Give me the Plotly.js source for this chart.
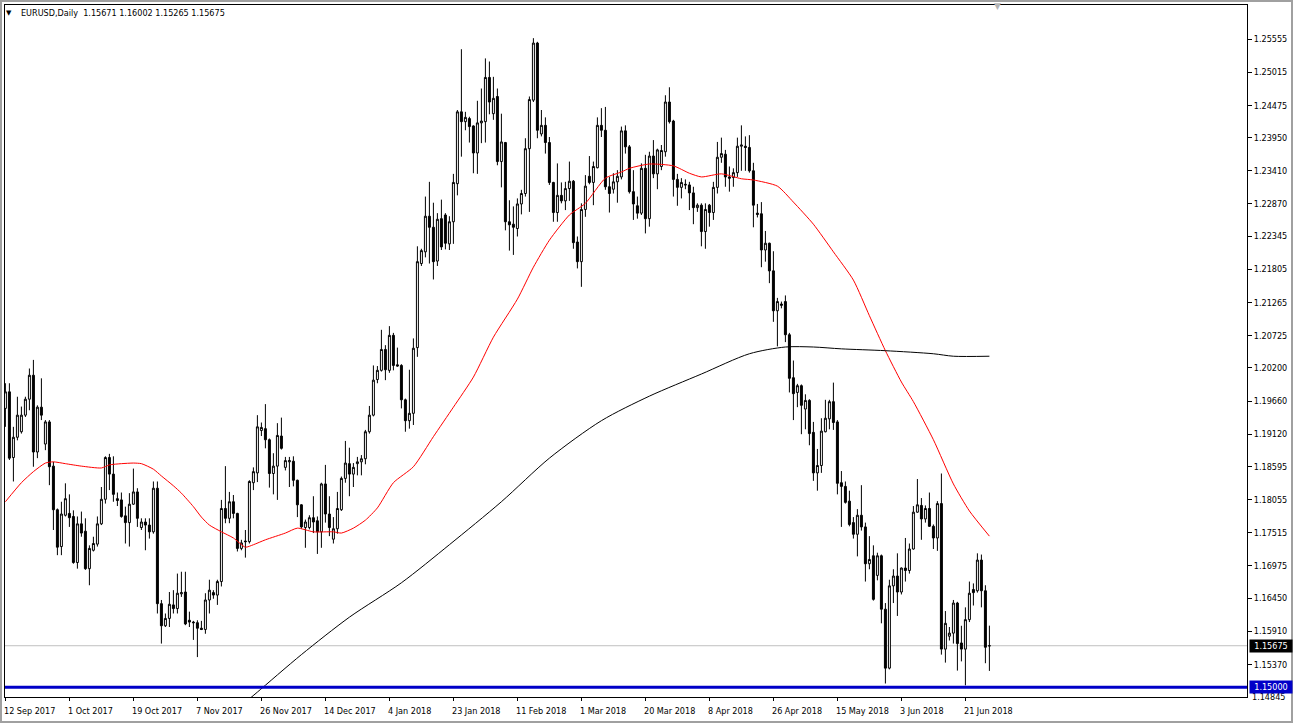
<!DOCTYPE html>
<html><head><meta charset="utf-8">
<script src="https://cdn.plot.ly/plotly-3.0.1.min.js"></script>
<style>html,body{margin:0;padding:0;background:#fff;}#chart{width:1293px;height:724px;}</style>
</head><body><div id="chart"></div>
<script>
// ---- data (EURUSD daily, bar index 0 = 12 Sep 2017) ----
const opens = [
1.1954,1.1981,1.1874,1.1907,1.1916,1.1943,1.1969,1.2008,1.1883,1.1956,
1.1896,1.1932,1.1860,1.1789,1.1729,1.1780,1.1783,1.1778,1.1703,1.1766,
1.1754,1.1693,1.1723,1.1733,1.1766,1.1806,1.1874,1.1847,1.1807,1.1805,
1.1779,1.1768,1.1798,1.1818,1.1760,1.1769,1.1764,1.1753,1.1824,1.1636,
1.1600,1.1612,1.1634,1.1628,1.1652,1.1655,1.1609,1.1606,1.1605,1.1596,
1.1594,1.1642,1.1654,1.1650,1.1672,1.1791,1.1775,1.1802,1.1783,1.1726,
1.1738,1.1737,1.1833,1.1849,1.1918,1.1921,1.1903,1.1848,1.1860,1.1909,
1.1858,1.1867,1.1868,1.1837,1.1797,1.1760,1.1760,1.1776,1.1771,1.1753,
1.1831,1.1782,1.1741,1.1758,1.1789,1.1840,1.1864,1.1847,1.1864,1.1867,
1.1872,1.1916,1.1943,1.2001,1.2016,1.2050,1.2016,1.2073,1.2025,1.2024,
1.1968,1.1934,1.1946,1.2053,1.2190,1.2209,1.2267,1.2249,1.2194,1.2263,
1.2269,1.2222,1.2258,1.2320,1.2437,1.2421,1.2426,1.2414,1.2370,1.2419,
1.2421,1.2493,1.2434,1.2462,1.2356,1.2387,1.2258,1.2254,1.2247,1.2287,
1.2304,1.2377,1.2456,1.2549,1.2401,1.2415,1.2387,1.2322,1.2273,1.2301,
1.2292,1.2312,1.2324,1.2225,1.2193,1.2278,1.2332,1.2322,1.2346,1.2415,
1.2407,1.2315,1.2311,1.2323,1.2331,1.2406,1.2380,1.2307,1.2284,1.2272,
1.2345,1.2263,1.2365,1.2336,1.2348,1.2372,1.2453,1.2422,1.2327,1.2314,
1.2319,1.2318,1.2305,1.2281,1.2285,1.2242,1.2285,1.2273,1.2314,1.2363,
1.2368,1.2331,1.2330,1.2338,1.2381,1.2381,1.2379,1.2341,1.2272,1.2271,
1.2212,1.2223,1.2178,1.2113,1.2124,1.2128,1.2074,1.2004,1.1980,1.1991,
1.1953,1.1967,1.1915,1.1849,1.1861,1.1916,1.1937,1.1965,1.1932,1.1833,
1.1827,1.1803,1.1768,1.1749,1.1780,1.1761,1.1701,1.1714,1.1682,1.1714,
1.1627,1.1531,1.1665,1.1681,1.1655,1.1694,1.1690,1.1725,1.1785,1.1796,
1.1774,1.1791,1.1762,1.1743,1.1799,1.1562,1.1583,1.1588,1.1637,1.1572,
1.1562,1.1610,1.1659,1.1657,1.1707,1.1657,1.15671];
const highs = [
1.1995,1.1995,1.1924,1.1973,1.1957,1.1973,1.2019,1.2033,1.1959,1.2003,
1.1935,1.1935,1.1867,1.1791,1.1802,1.1832,1.1814,1.1788,1.1778,1.1786,
1.1775,1.1731,1.1745,1.1778,1.1826,1.1876,1.1880,1.1876,1.1817,1.1817,
1.1794,1.1816,1.1856,1.1824,1.1775,1.1775,1.1775,1.1835,1.1835,1.1642,
1.1620,1.1655,1.1658,1.1685,1.1688,1.1688,1.1623,1.1608,1.1609,1.1608,
1.1653,1.1675,1.1658,1.1675,1.1805,1.1860,1.1818,1.1813,1.1784,1.1740,
1.1756,1.1837,1.1858,1.1943,1.1931,1.1961,1.1905,1.1881,1.1930,1.1939,
1.1875,1.1875,1.1876,1.1838,1.1798,1.1773,1.1780,1.1811,1.1778,1.1833,
1.1862,1.1811,1.1777,1.1818,1.1843,1.1901,1.1890,1.1865,1.1875,1.1878,
1.1919,1.1958,1.2024,1.2023,1.2082,1.2057,1.2088,1.2077,1.2053,1.2026,
1.1970,1.2017,1.2068,1.2218,1.2214,1.2299,1.2323,1.2289,1.2272,1.2294,
1.2272,1.2267,1.2336,1.2440,1.2539,1.2437,1.2429,1.2415,1.2455,1.2475,
1.2524,1.2519,1.2494,1.2475,1.2434,1.2388,1.2293,1.2283,1.2296,1.2310,
1.2394,1.2462,1.2557,1.2551,1.2440,1.2428,1.2396,1.2323,1.2353,1.2322,
1.2323,1.2356,1.2326,1.2234,1.2288,1.2334,1.2365,1.2356,1.2428,1.2443,
1.2445,1.2331,1.2337,1.2342,1.2413,1.2415,1.2383,1.2342,1.2299,1.2353,
1.2367,1.2372,1.2391,1.2377,1.2383,1.2464,1.2477,1.2424,1.2336,1.2329,
1.2327,1.2323,1.2315,1.2288,1.2288,1.2288,1.2287,1.2323,1.2388,1.2395,
1.2375,1.2348,1.2345,1.2395,1.2415,1.2397,1.2399,1.2354,1.2287,1.2290,
1.2243,1.2224,1.2210,1.2134,1.2128,1.2138,1.2077,1.2032,1.1994,1.1993,
1.1977,1.1969,1.1932,1.1888,1.1938,1.1968,1.1968,1.1996,1.1935,1.1852,
1.1835,1.1820,1.1777,1.1790,1.1829,1.1768,1.1746,1.1731,1.1719,1.1716,
1.1637,1.1675,1.1692,1.1718,1.1695,1.1743,1.1734,1.1795,1.1839,1.1808,
1.1796,1.1817,1.1765,1.1803,1.1848,1.1624,1.1598,1.1642,1.1639,1.1600,
1.1630,1.1672,1.1669,1.1718,1.1716,1.1666,1.16002];
const lows = [
1.1924,1.1870,1.1835,1.1902,1.1913,1.1940,1.1951,1.1859,1.1873,1.1935,
1.1886,1.1829,1.1756,1.1715,1.1715,1.1778,1.1761,1.1701,1.1693,1.1745,
1.1691,1.1666,1.1721,1.1729,1.1764,1.1799,1.1821,1.1802,1.1795,1.1776,
1.1734,1.1729,1.1797,1.1761,1.1756,1.1723,1.1742,1.1750,1.1620,1.1571,
1.1598,1.1598,1.1620,1.1620,1.1647,1.1601,1.1598,1.1577,1.1549,1.1593,
1.1587,1.1620,1.1644,1.1634,1.1664,1.1767,1.1767,1.1775,1.1721,1.1723,
1.1711,1.1734,1.1821,1.1834,1.1909,1.1889,1.1825,1.1814,1.1805,1.1887,
1.1853,1.1826,1.1827,1.1777,1.1758,1.1727,1.1757,1.1751,1.1717,1.1727,
1.1768,1.1746,1.1734,1.1750,1.1787,1.1833,1.1811,1.1826,1.1845,1.1845,
1.1863,1.1913,1.1941,1.1995,1.2014,1.2000,1.2012,1.2016,1.2022,1.1954,
1.1916,1.1921,1.1927,1.2038,1.2186,1.2200,1.2190,1.2164,1.2186,1.2212,
1.2213,1.2212,1.2222,1.2301,1.2364,1.2407,1.2387,1.2337,1.2336,1.2386,
1.2387,1.2433,1.2424,1.2350,1.2314,1.2244,1.2211,1.2204,1.2234,1.2270,
1.2299,1.2274,1.2453,1.2394,1.2397,1.2369,1.2318,1.2258,1.2258,1.2288,
1.2277,1.2292,1.2214,1.2182,1.2152,1.2266,1.2319,1.2285,1.2345,1.2396,
1.2310,1.2273,1.2304,1.2289,1.2327,1.2369,1.2304,1.2261,1.2263,1.2269,
1.2239,1.2250,1.2329,1.2311,1.2342,1.2364,1.2418,1.2299,1.2284,1.2296,
1.2311,1.2277,1.2254,1.2274,1.2218,1.2214,1.2250,1.2261,1.2304,1.2354,
1.2315,1.2307,1.2315,1.2331,1.2341,1.2341,1.2338,1.2249,1.2265,1.2184,
1.2193,1.2158,1.2095,1.2055,1.2117,1.2062,1.1980,1.1935,1.1956,1.1912,
1.1920,1.1894,1.1836,1.1820,1.1849,1.1915,1.1920,1.1919,1.1814,1.1761,
1.1799,1.1762,1.1742,1.1713,1.1755,1.1672,1.1692,1.1641,1.1674,1.1604,
1.1506,1.1529,1.1637,1.1616,1.1651,1.1672,1.1685,1.1724,1.1784,1.1740,
1.1768,1.1761,1.1725,1.1722,1.1553,1.1540,1.1576,1.1571,1.1527,1.1542,
1.1503,1.1606,1.1633,1.1654,1.1630,1.1539,1.15265];
const closes = [
1.1981,1.1873,1.1907,1.1943,1.1943,1.1969,1.2008,1.1883,1.1956,1.1943,
1.1932,1.1859,1.1789,1.1728,1.1782,1.1807,1.1776,1.1703,1.1766,1.1751,
1.1693,1.1726,1.1734,1.1766,1.1806,1.1874,1.1847,1.1814,1.1804,1.1778,
1.1768,1.1798,1.1818,1.1775,1.1769,1.1764,1.1753,1.1824,1.1636,1.1600,
1.1612,1.1635,1.1628,1.1653,1.1654,1.1603,1.1606,1.1605,1.1596,1.1594,
1.1642,1.1658,1.1650,1.1672,1.1791,1.1775,1.1802,1.1783,1.1726,1.1735,
1.1737,1.1835,1.1851,1.1924,1.1923,1.1903,1.1848,1.1860,1.1910,1.1889,
1.1869,1.1869,1.1837,1.1797,1.1761,1.1769,1.1776,1.1769,1.1753,1.1831,
1.1782,1.1760,1.1758,1.1791,1.1840,1.1865,1.1847,1.1858,1.1867,1.1872,
1.1916,1.1943,1.2000,1.2016,1.2050,1.2017,1.2073,1.2024,1.2023,1.1968,
1.1934,1.1946,1.2052,1.2193,1.2211,1.2267,1.2249,1.2193,1.2262,1.2217,
1.2223,1.2258,1.2322,1.2437,1.2421,1.2428,1.2413,1.2370,1.2419,1.2422,
1.2493,1.2453,1.2459,1.2356,1.2388,1.2258,1.2253,1.2249,1.2287,1.2304,
1.2377,1.2457,1.2549,1.2407,1.2415,1.2387,1.2322,1.2273,1.2301,1.2292,
1.2312,1.2324,1.2224,1.2193,1.2278,1.2316,1.2322,1.2348,1.2415,1.2407,
1.2315,1.2304,1.2323,1.2332,1.2406,1.2380,1.2307,1.2287,1.2272,1.2345,
1.2263,1.2365,1.2336,1.2375,1.2374,1.2453,1.2421,1.2327,1.2314,1.2322,
1.2318,1.2305,1.2281,1.2285,1.2242,1.2278,1.2273,1.2314,1.2363,1.2369,
1.2331,1.2329,1.2338,1.2381,1.2383,1.2379,1.2341,1.2285,1.2270,1.2212,
1.2223,1.2178,1.2113,1.2128,1.2122,1.2074,1.2003,1.1978,1.1991,1.1959,
1.1967,1.1913,1.1849,1.1861,1.1917,1.1938,1.1965,1.1931,1.1832,1.1827,
1.1801,1.1765,1.1749,1.1780,1.1761,1.1701,1.1708,1.1643,1.1714,1.1627,
1.1531,1.1665,1.1681,1.1655,1.1694,1.1690,1.1725,1.1785,1.1797,1.1774,
1.1791,1.1762,1.1743,1.1799,1.1562,1.1604,1.1588,1.1637,1.1571,1.1562,
1.1610,1.1653,1.1654,1.1707,1.1657,1.1565,1.15675];

// moving averages (bar index, price)
const maRedBars = [0,4,7,10,12,15,19,24,26,29,32,34,37,39,42,44,47,49,51,54,57,60,62,65,70,73,77,82,84,87,90,93,97,102,107,112,117,122,128,132,136,141,145,150,154,156,161,167,171,174,179,184,187,193,197,202,207,212,216,220,224,227,232,237,241,246];
const maRedVals = [1.1802,1.1833,1.1851,1.1865,1.1867,1.1864,1.1860,1.1857,1.1862,1.1864,1.1865,1.1864,1.1855,1.1844,1.1828,1.1816,1.1794,1.1777,1.1764,1.1753,1.1743,1.1728,1.1732,1.1740,1.1751,1.1759,1.1753,1.1753,1.1751,1.1759,1.1772,1.1792,1.1833,1.1859,1.1908,1.1956,1.2005,1.2070,1.2132,1.2184,1.2228,1.2269,1.2288,1.2329,1.2339,1.2345,1.2352,1.2349,1.2337,1.2331,1.2336,1.2328,1.2326,1.2316,1.2290,1.2254,1.2209,1.2163,1.2105,1.2048,1.1997,1.1965,1.1903,1.1831,1.1787,1.1746];
const maBlackBars = [61,63,74,86,99,111,124,136,149,161,174,186,195,202,209,220,232,237,246];
const maBlackVals = [1.1481,1.1492,1.1553,1.1614,1.1670,1.1732,1.1802,1.1873,1.1934,1.1974,1.2010,1.2043,1.2054,1.2054,1.2051,1.2048,1.2043,1.2039,1.2039];

const dateTickBars = [0,16,32,48,64,80,96,112,128,144,160,176,192,208,224,240];
const dateTickText = ["12 Sep 2017","1 Oct 2017","19 Oct 2017","7 Nov 2017","26 Nov 2017","14 Dec 2017","4 Jan 2018","23 Jan 2018","11 Feb 2018","1 Mar 2018","20 Mar 2018","8 Apr 2018","26 Apr 2018","15 May 2018","3 Jun 2018","21 Jun 2018"];
const priceTicks = [1.25555,1.25015,1.24475,1.23950,1.23410,1.22870,1.22345,1.21805,1.21265,1.20725,1.20200,1.19660,1.19120,1.18595,1.18055,1.17515,1.16975,1.16450,1.15910,1.15370];
const bottomTick = 1.14845;
const currentPrice = 1.15675;
const levelPrice = 1.15000;
const headerText = "EURUSD,Daily\u00a0\u00a01.15671 1.16002 1.15265 1.15675";

// ---- chart ----
const FONT = "DejaVu Sans Condensed, DejaVu Sans, sans-serif";
const bars = opens.map((_, i) => i);
const hi = highs.map((h, i) => Math.max(h, opens[i], closes[i]));
const lo = lows.map((l, i) => Math.min(l, opens[i], closes[i]));

const traces = [
  {type:'candlestick', x:bars, open:opens, high:hi, low:lo, close:closes,
   increasing:{line:{color:'#000', width:1}, fillcolor:'#ffffff'},
   decreasing:{line:{color:'#000', width:1}, fillcolor:'#000000'},
   whiskerwidth:0, hoverinfo:'skip', showlegend:false},
  {type:'scatter', mode:'lines', x:maRedBars, y:maRedVals, line:{color:'#ff0000', width:1, shape:'spline', smoothing:0.6}, hoverinfo:'skip', showlegend:false},
  {type:'scatter', mode:'lines', x:maBlackBars, y:maBlackVals, line:{color:'#000000', width:1, shape:'spline', smoothing:0.8}, hoverinfo:'skip', showlegend:false}
];

const PX = px => (px - 5) / 1242;   // pixel -> paper x
const PY = py => (697 - py) / 692;  // pixel -> paper y

const annotations = dateTickBars.map((b, i) => ({
  x: b, xref:'x', y:0, yref:'paper', yanchor:'top', xanchor:'left',
  xshift:-3, yshift:-7, text: dateTickText[i], showarrow:false,
  font:{family:FONT, size:9, color:'#000'}
}));
annotations.push(
  {x:1, xref:'paper', y:bottomTick, yref:'y', xanchor:'left', yanchor:'middle', xshift:3,
   text:bottomTick.toFixed(5), showarrow:false, font:{family:FONT, size:9, color:'#000'}},
  {x:1, xref:'paper', y:currentPrice, yref:'y', xanchor:'left', yanchor:'middle', xshift:2,
   text:currentPrice.toFixed(5), showarrow:false, bgcolor:'#000000', borderpad:1, width:40,
   font:{family:FONT, size:9, color:'#ffffff'}},
  {x:1, xref:'paper', y:levelPrice, yref:'y', xanchor:'left', yanchor:'middle', xshift:2,
   text:levelPrice.toFixed(5), showarrow:false, bgcolor:'#0000c8', borderpad:1, width:40,
   font:{family:FONT, size:9, color:'#ffffff'}},
  {x:PX(9), xref:'paper', y:PY(13), yref:'paper', xanchor:'center', yanchor:'middle',
   text:'\u25bc', showarrow:false, font:{family:'DejaVu Sans', size:7, color:'#000'}},
  {x:PX(19), xref:'paper', y:PY(13), yref:'paper', xanchor:'left', yanchor:'middle',
   text:headerText, showarrow:false, font:{family:FONT, size:9, color:'#000'}},
  {x:PX(997), xref:'paper', y:PY(6), yref:'paper', xanchor:'center', yanchor:'middle',
   text:'\u25bc', showarrow:false, font:{family:'DejaVu Sans', size:9, color:'#b4b4b4'}}
);

const shapes = [
  {type:'line', xref:'paper', x0:0, x1:1, yref:'y', y0:currentPrice, y1:currentPrice,
   line:{color:'#c0c0c0', width:1}, layer:'below'},
  {type:'line', xref:'paper', x0:0, x1:1, yref:'y', y0:levelPrice, y1:levelPrice,
   line:{color:'#0000c8', width:3}, layer:'above'},
  {type:'rect', xref:'paper', yref:'paper', x0:PX(1), x1:PX(1292), y0:PY(722), y1:PY(1),
   line:{color:'#a0a0a0', width:2}, fillcolor:'rgba(0,0,0,0)'}
];

const layout = {
  width:1293, height:724,
  margin:{l:5, r:46, t:5, b:27, pad:0},
  paper_bgcolor:'#ffffff', plot_bgcolor:'#ffffff',
  font:{family:FONT, size:9, color:'#000'},
  showlegend:false,
  xaxis:{range:[-0.1, 310.4], showgrid:false, zeroline:false, rangeslider:{visible:false},
         showline:true, mirror:true, linecolor:'#000', linewidth:1,
         tickvals:dateTickBars, ticktext:dateTickBars.map(()=>''), ticks:'outside', ticklen:3, tickcolor:'#000',
         showticklabels:false, fixedrange:true},
  yaxis:{range:[1.14840, 1.26110], side:'right', showgrid:false, zeroline:false,
         showline:true, mirror:true, linecolor:'#000', linewidth:1,
         tickvals:priceTicks, ticktext:priceTicks.map(v=>v.toFixed(5)), ticks:'outside', ticklen:4, tickcolor:'#000',
         tickfont:{family:FONT, size:9, color:'#000'}, fixedrange:true},
  annotations:annotations,
  shapes:shapes
};

Plotly.newPlot('chart', traces, layout, {displayModeBar:false, staticPlot:true});
</script>
</body></html>
